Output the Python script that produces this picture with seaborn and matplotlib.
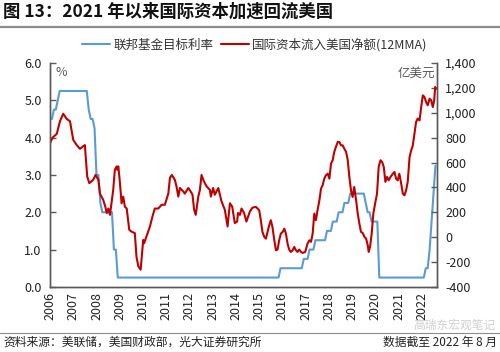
import matplotlib
matplotlib.use("Agg")
import matplotlib.pyplot as plt
from matplotlib.lines import Line2D
import numpy as np
import pandas as pd
import seaborn as sns

# Fed funds target (upper bound), month when a new level starts
rate_month = ["2006-01", "2006-03", "2006-05", "2006-06", "2007-09", "2007-10",
              "2007-12", "2008-01", "2008-03", "2008-04", "2008-10", "2008-12",
              "2015-12", "2016-12", "2017-03", "2017-06", "2017-12", "2018-03",
              "2018-06", "2018-09", "2018-12", "2019-08", "2019-09", "2019-11",
              "2020-03", "2022-03", "2022-05", "2022-06", "2022-07", "2022-08"]
rate_level = [4.5, 4.75, 5.0, 5.25, 4.75, 4.5, 4.25, 3.0, 2.25, 2.0, 1.0, 0.25,
              0.5, 0.75, 1.0, 1.25, 1.5, 1.75, 2.0, 2.25, 2.5, 2.25, 2.0, 1.75,
              0.25, 0.5, 1.0, 1.75, 2.5, 3.25]

# net capital inflow into the US, 12MMA, 100m USD
flow_t = [2006.00, 2006.11, 2006.29, 2006.43, 2006.57, 2006.72, 2006.86, 2007.00,
          2007.15, 2007.29, 2007.43, 2007.50, 2007.60, 2007.69, 2007.86, 2007.96,
          2008.08, 2008.15, 2008.29, 2008.38, 2008.44, 2008.51, 2008.58, 2008.72,
          2008.79, 2008.87, 2008.89, 2008.94, 2009.01, 2009.08, 2009.15, 2009.22,
          2009.30, 2009.41, 2009.51, 2009.65, 2009.72, 2009.80, 2009.90, 2010.01,
          2010.05, 2010.15, 2010.30, 2010.41, 2010.51, 2010.66, 2010.80, 2010.94,
          2011.09, 2011.16, 2011.24, 2011.37, 2011.44, 2011.52, 2011.59, 2011.73,
          2011.80, 2011.95, 2012.05, 2012.13, 2012.20, 2012.27, 2012.38, 2012.45,
          2012.52, 2012.62, 2012.73, 2012.88, 2012.92, 2013.02, 2013.09, 2013.24,
          2013.38, 2013.52, 2013.64, 2013.74, 2013.84, 2013.95, 2014.05, 2014.09,
          2014.17, 2014.24, 2014.35, 2014.45, 2014.60, 2014.71, 2014.86, 2015.00,
          2015.07, 2015.14, 2015.22, 2015.29, 2015.36, 2015.43, 2015.50, 2015.57,
          2015.65, 2015.72, 2015.79, 2015.86, 2015.93, 2016.01, 2016.08, 2016.15,
          2016.22, 2016.29, 2016.36, 2016.44, 2016.51, 2016.58, 2016.65, 2016.72,
          2016.80, 2016.87, 2016.98, 2017.08, 2017.16, 2017.23, 2017.30, 2017.37,
          2017.44, 2017.51, 2017.59, 2017.66, 2017.73, 2017.80, 2017.87, 2017.95,
          2018.02, 2018.09, 2018.16, 2018.23, 2018.30, 2018.38, 2018.45, 2018.52,
          2018.59, 2018.66, 2018.74, 2018.81, 2018.88, 2018.95, 2019.02, 2019.09,
          2019.17, 2019.24, 2019.31, 2019.38, 2019.45, 2019.53, 2019.60, 2019.67,
          2019.71, 2019.77, 2019.84, 2019.91, 2020.00, 2020.07, 2020.14, 2020.22,
          2020.29, 2020.36, 2020.43, 2020.50, 2020.57, 2020.65, 2020.75, 2020.82,
          2020.89, 2020.96, 2021.03, 2021.11, 2021.18, 2021.25, 2021.32, 2021.39,
          2021.47, 2021.54, 2021.61, 2021.68, 2021.75, 2021.82, 2021.90, 2021.97,
          2022.04, 2022.11, 2022.18, 2022.25, 2022.33, 2022.40, 2022.47, 2022.53,
          2022.57, 2022.61]
flow_v = [755, 800, 830, 932, 992, 950, 932, 782,
          740, 710, 731, 740, 488, 434, 461, 500,
          461, 350, 299, 245, 194, 230, 179, 380,
          542, 569, 542, 569, 434, 272, 326, 245,
          230, 59, 44, 32, -157, -235, -262, -22,
          -49, 5, 86, 167, 230, 230, 260, 260,
          350, 476, 500, 461, 410, 326, 395, 368,
          350, 395, 368, 341, 221, 179, 326, 380,
          500, 449, 410, 380, 326, 395, 341, 395,
          287, 221, 86, 272, 245, 113, 125, 194,
          179, 230, 194, 125, 206, 237, 243, 216,
          136, 42, 2, -12, 42, 95, 136, 82,
          -25, -106, -100, -25, 28, 42, 68, 28,
          -52, -100, -119, -106, -79, -106, -119, -100,
          -119, -127, -119, -52, -25, -38, 28, 189,
          136, 216, 296, 390, 417, 470, 497, 510,
          470, 591, 618, 685, 725, 765, 765, 738,
          738, 712, 685, 618, 484, 376, 323, 403,
          296, 189, 109, 42, 34, 2, -12, -65,
          -119, -79, 28, 189, 283, 350, 564, 618,
          604, 564, 444, 484, 457, 484, 510, 524,
          470, 457, 510, 430, 350, 336, 376, 444,
          644, 698, 738, 832, 926, 953, 939, 1046,
          1140, 1127, 1087, 1060, 1113, 1100, 1046, 1100,
          1207, 1193]

years = list(range(2006, 2023))

# monthly series of the target rate (level holds until next change)
months = pd.period_range("2006-01", "2022-08", freq="M")
rate = pd.Series(rate_level, index=pd.PeriodIndex(rate_month, freq="M"))
rate = rate.reindex(months).ffill()
df_rate = pd.DataFrame({"t": months.year + (months.month - 1) / 12.0,
                        "rate": rate.values})
df_flow = pd.DataFrame({"t": flow_t, "flow": flow_v})

sns.set_style("white")
plt.rcParams["font.family"] = ["Noto Sans CJK SC", "DejaVu Sans"]
plt.rcParams["axes.unicode_minus"] = False

blue = "#5B9BD5"
red = "#C00000"
grey = "#595959"

fig = plt.figure(figsize=(5.0, 3.52), dpi=100)
ax = fig.add_axes([0.1, 0.185, 0.774, 0.636])
ax2 = ax.twinx()

sns.lineplot(data=df_rate, x="t", y="rate", ax=ax, color=blue, lw=1.5)
sns.lineplot(data=df_flow, x="t", y="flow", ax=ax2, color=red, lw=1.5)

ax.set_xlim(2006.0, 2022.65)
ax.set_ylim(0, 6)
ax2.set_ylim(-400, 1400)
ax.set_yticks(np.arange(0, 6.1, 1.0))
ax.set_yticklabels([f"{v:.1f}" for v in np.arange(0, 6.1, 1.0)])
ax2.set_yticks(range(-400, 1401, 200))
ax2.set_yticklabels([f"{v:,}" for v in range(-400, 1401, 200)])
ax.set_xticks(years)
ax.set_xticklabels([str(y) for y in years], rotation=90)
ax.set_xlabel("")
ax.set_ylabel("")
ax2.set_ylabel("")

for a in (ax, ax2):
    for s in a.spines.values():
        s.set_color(grey)
        s.set_linewidth(1.0)
    a.spines["top"].set_visible(False)
    a.tick_params(direction="in", length=4, width=1.0, color=grey,
                  labelsize=9, labelcolor="#222222", pad=3)
ax.tick_params(axis="y", pad=6)
ax2.tick_params(axis="y", pad=6)
ax.tick_params(axis="x", pad=4)

ax.text(0.015, 0.985, "%", transform=ax.transAxes, ha="left", va="top",
        fontsize=9, color=grey)
ax2.text(0.995, 0.985, "亿美元", transform=ax.transAxes, ha="right", va="top",
         fontsize=9, color=grey)

handles = [Line2D([], [], color=blue, lw=1.5), Line2D([], [], color=red, lw=1.5)]
fig.legend(handles, ["联邦基金目标利率", "国际资本流入美国净额(12MMA)"],
           loc="center", bbox_to_anchor=(0.51, 0.872), ncol=2, frameon=False,
           fontsize=9, handlelength=2.2, columnspacing=0.6, handletextpad=0.3,
           labelcolor="#333333")

fig.text(0.006, 0.966, "图 13：2021 年以来国际资本加速回流美国", ha="left",
         va="center", fontsize=12.5, fontweight="bold", color="#111111")
fig.add_artist(Line2D([0, 1], [0.923, 0.923], transform=fig.transFigure,
                      color="#8c8c8c", lw=1.6))
fig.add_artist(Line2D([0, 1], [0.054, 0.054], transform=fig.transFigure,
                      color="#8c8c8c", lw=0.8))
fig.text(0.99, 0.075, "高瑞东宏观笔记", ha="right", va="center", fontsize=8.5,
         color="#bbbbbb", alpha=0.7)
fig.text(0.006, 0.028, "资料来源：美联储，美国财政部，光大证券研究所", ha="left",
         va="center", fontsize=8.5, color="#222222")
fig.text(0.994, 0.028, "数据截至 2022 年 8 月", ha="right", va="center",
         fontsize=8.5, color="#222222")

fig.savefig("out.png", dpi=100)
